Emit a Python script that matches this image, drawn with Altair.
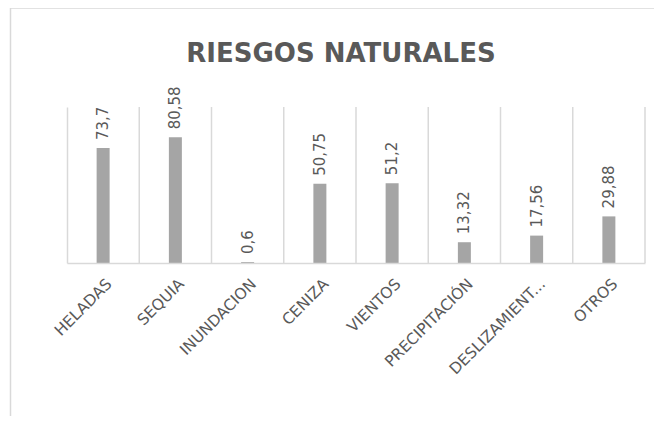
import altair as alt
import pandas as pd

categories = ["HELADAS", "SEQUIA", "INUNDACION", "CENIZA", "VIENTOS",
              "PRECIPITACIÓN", "DESLIZAMIENT...", "OTROS"]
values = [73.7, 80.58, 0.6, 50.75, 51.2, 13.32, 17.56, 29.88]
value_labels = ["73,7", "80,58", "0,6", "50,75", "51,2", "13,32", "17,56", "29,88"]

df = pd.DataFrame({"cat": categories, "val": values, "lbl": value_labels})

GRID = "#d9d9d9"
TEXT = "#595959"
BAR = "#a5a5a5"
FONT = "DejaVu Sans"

x_enc = alt.X("cat:N", sort=categories,
              scale=alt.Scale(paddingInner=0, paddingOuter=0),
              axis=alt.Axis(title=None, labelAngle=315, labelAlign="right",
                            labelBaseline="middle", labelPadding=18, labelOffset=6,
                            labelFont=FONT, labelFontSize=15.5, labelColor=TEXT,
                            ticks=False, domainColor=GRID, domainWidth=1.5,
                            grid=False, labelLimit=300, zindex=1))
y_scale = alt.Scale(domain=[0, 100], nice=False, zero=True)

frame = alt.Chart(pd.DataFrame({"a": [0]})).mark_rect(
    fillOpacity=0, stroke=GRID, strokeWidth=1.5
).encode(
    x=alt.value(-56.5), x2=alt.value(700), y=alt.value(-99), y2=alt.value(400)
)

rules = alt.Chart(df).mark_rule(color=GRID, strokeWidth=1.5).encode(
    x=alt.X("cat:N", sort=categories, bandPosition=1),
    y=alt.datum(0, scale=y_scale),
    y2=alt.datum(100),
)

bars = alt.Chart(df).mark_bar(color=BAR, size=13).encode(
    x=x_enc,
    y=alt.Y("val:Q", scale=y_scale,
            axis=alt.Axis(title=None, labels=False, ticks=False, grid=False,
                          domainColor=GRID, domainWidth=1.5, zindex=1)),
)

texts = alt.Chart(df).mark_text(
    angle=270, align="left", baseline="middle", dx=8,
    font=FONT, fontSize=15, color=TEXT
).encode(
    x=alt.X("cat:N", sort=categories),
    y=alt.Y("val:Q", scale=y_scale),
    text="lbl:N",
)

chart = alt.layer(frame, rules, bars, texts).properties(
    width=578, height=156,
    title=alt.TitleParams("RIESGOS NATURALES", font=FONT, fontSize=26,
                          fontWeight="bold", color=TEXT, anchor="middle",
                          dx=-15, offset=-60),
    autosize=alt.AutoSizeParams(type="none"),
    padding={"left": 59, "top": 99, "right": 9, "bottom": 153},
).configure_view(stroke=None)

chart.save("out.html", embed_options={"renderer": "svg", "actions": False})
